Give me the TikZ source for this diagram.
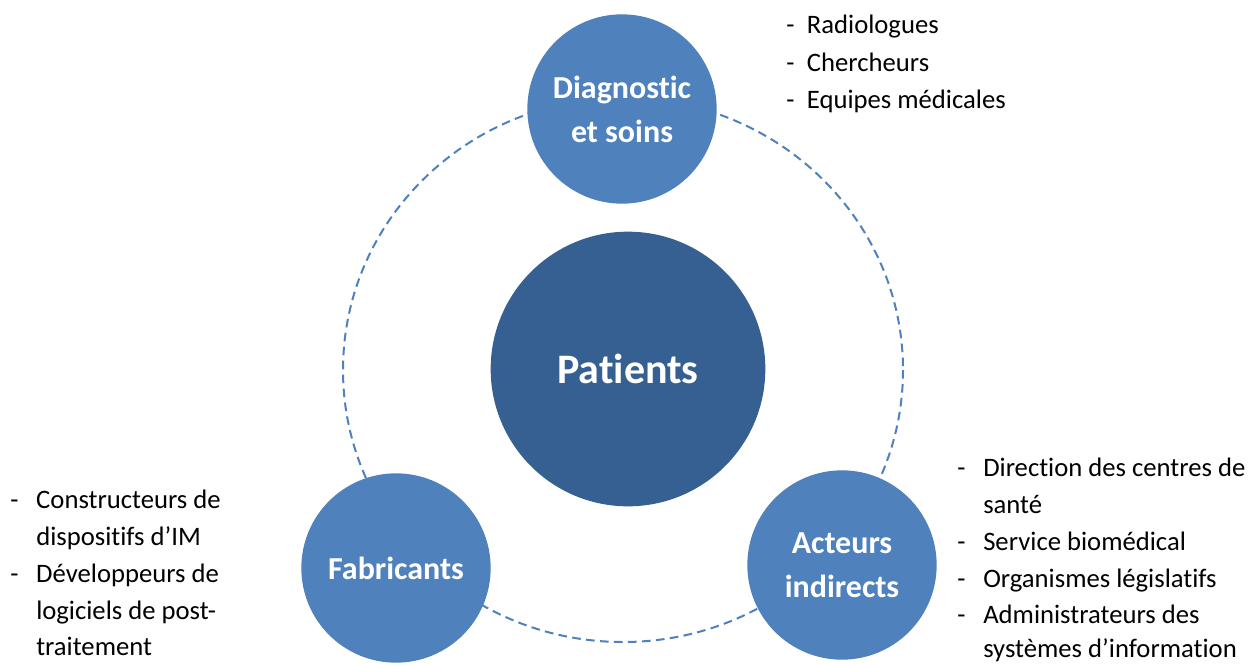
\documentclass[tikz,border=0pt]{standalone}
\usepackage{fontspec}
\setmainfont{Carlito}[RawFeature={-liga,-clig,-dlig}]
\definecolor{lightblue}{RGB}{79,129,189}
\definecolor{darkblue}{RGB}{55,96,146}
\begin{document}
\begin{tikzpicture}[x=0.75pt,y=-0.75pt,
  ring/.style={draw=lightblue,line width=1.5pt,dash pattern=on 6.5pt off 4pt},
  actor/.style={circle,fill=lightblue,inner sep=0pt,minimum size=142pt,text=white,
    font=\fontsize{24}{33}\selectfont\bfseries,align=center},
  core/.style={circle,fill=darkblue,inner sep=0pt,minimum size=206pt,text=white,
    font=\fontsize{31.5}{38}\selectfont\bfseries},
  item/.style={anchor=base west,inner sep=0pt,font=\fontsize{20}{28}\selectfont,text=black}
]
\useasboundingbox (0,0) rectangle (1255,664);
\fill[white] (0,0) rectangle (1255,664);
\draw[ring] (623,370) ellipse [x radius=280, y radius=272];

\node[core] (patients) at (628,369) {Patients};
\node[actor] (diag) at (622,109) {Diagnostic\\et soins};
\node[actor] (fab) at (396,568) {Fabricants};
\node[actor] (act) at (842,565) {Acteurs\\indirects};

% top list
\node[item] (t1) at (786,33) {\makebox[15.5pt][l]{-}Radiologues};
\node[item] (t2) at (786,71) {\makebox[15.5pt][l]{-}Chercheurs};
\node[item] (t3) at (786,108) {\makebox[15.5pt][l]{-}Equipes médicales};

% left list
\node[item] (l1) at (10,508) {\makebox[19.5pt][l]{-}Constructeurs de};
\node[item] (l2) at (36,545) {dispositifs d’IM};
\node[item] (l3) at (10,582) {\makebox[19.5pt][l]{-}Développeurs de};
\node[item] (l4) at (36,619) {logiciels de post-};
\node[item] (l5) at (36,655) {traitement};

% right list
\node[item] (r1) at (957,476) {\makebox[19.5pt][l]{-}Direction des centres de};
\node[item] (r2) at (983,513) {santé};
\node[item] (r3) at (957,550) {\makebox[19.5pt][l]{-}Service biomédical};
\node[item] (r4) at (957,587) {\makebox[19.5pt][l]{-}Organismes législatifs};
\node[item] (r5) at (957,623) {\makebox[19.5pt][l]{-}Administrateurs des};
\node[item] (r6) at (983,657) {systèmes d’information};
\end{tikzpicture}
\end{document}
